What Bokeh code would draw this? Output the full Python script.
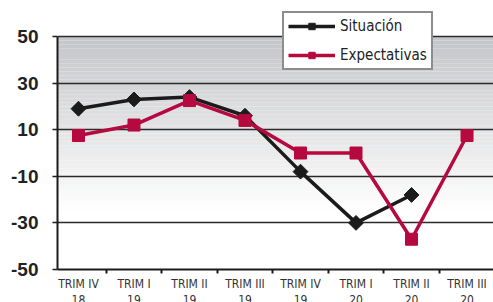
import math
from bokeh.plotting import figure
from bokeh.models import Range1d, FixedTicker, Legend, LegendItem
from bokeh.embed import file_html
from bokeh.resources import INLINE

categories = ["TRIM IV\n18", "TRIM I\n19", "TRIM II\n19", "TRIM III\n19",
              "TRIM IV\n19", "TRIM I\n20", "TRIM II\n20", "TRIM III\n20"]
situacion = [19, 23, 24, 16, -8, -30, -18]
expectativas = [7.5, 12, 22.5, 14, 0, 0, -37, 7.5]
y_ticks = [-50, -30, -10, 10, 30, 50]

BLACK = "#1b1b1b"
RED = "#b5093f"

Y_MIN, Y_MAX = -50, 50
Y_TOP = Y_MAX + 26 * (Y_MAX - Y_MIN) / 233  # head-room for legend above plot
X_LO, X_HI = -0.378, 7.477

p = figure(frame_width=436, frame_height=259, output_backend="svg", toolbar_location=None,
           x_range=Range1d(X_LO, X_HI), y_range=Range1d(Y_MIN, Y_TOP),
           min_border_left=57, min_border_right=0, min_border_top=10,
           min_border_bottom=33)
p.outline_line_color = None
p.background_fill_color = "white"

# gradient background (only inside -50..50)
n = 60
top = (0xc4, 0xc5, 0xc8)
for i in range(n):
    a = Y_MIN + (Y_MAX - Y_MIN) * i / n
    b = Y_MIN + (Y_MAX - Y_MIN) * (i + 1) / n
    mid = (a + b) / 2
    t = (mid - (-25)) / (50 - (-25))
    t = max(0.0, min(1.0, t))
    c = tuple(int(round(255 + (tc - 255) * t)) for tc in top)
    p.quad(left=X_LO, right=X_HI, bottom=a, top=b,
           fill_color="#%02x%02x%02x" % c, line_color=None, level="image")

xs = list(range(len(categories)))

p.xgrid.grid_line_color = None
p.ygrid.ticker = FixedTicker(ticks=y_ticks)
p.ygrid.grid_line_color = "#2a2a2a"
p.ygrid.grid_line_width = 1.5
p.ygrid.level = "underlay"

r1 = p.line(xs[:len(situacion)], situacion, line_color=BLACK, line_width=3.5)
m1 = p.scatter(xs[:len(situacion)], situacion, marker="square", size=10.5,
               angle=math.pi / 4, fill_color=BLACK, line_color=BLACK)
r2 = p.line(xs, expectativas, line_color=RED, line_width=3.5)
m2 = p.scatter(xs, expectativas, marker="square", size=12,
               fill_color=RED, line_color=RED)

# axes
p.yaxis.ticker = FixedTicker(ticks=y_ticks)
p.yaxis.bounds = (Y_MIN, Y_MAX)
p.yaxis.major_label_overrides = {t: str(t) for t in y_ticks}
p.yaxis.axis_line_color = BLACK
p.yaxis.axis_line_width = 2
p.yaxis.major_tick_out = 5
p.yaxis.major_tick_in = 0
p.yaxis.major_tick_line_color = BLACK
p.yaxis.major_tick_line_width = 1.5
p.yaxis.minor_tick_line_color = None
p.yaxis.major_label_text_font = "Liberation Sans"
p.yaxis.major_label_text_font_style = "bold"
p.yaxis.major_label_text_font_size = "19px"
p.yaxis.major_label_text_color = "#222222"
p.yaxis.major_label_standoff = 14

p.xaxis.ticker = FixedTicker(ticks=xs, minor_ticks=[i + 0.5 for i in range(7)])
p.xaxis.major_label_overrides = {i: c for i, c in enumerate(categories)}
p.xaxis.axis_line_color = BLACK
p.xaxis.axis_line_width = 2
p.xaxis.major_tick_line_color = None
p.xaxis.minor_tick_out = 4
p.xaxis.minor_tick_in = 0
p.xaxis.minor_tick_line_color = BLACK
p.xaxis.minor_tick_line_width = 2
p.xaxis.major_label_text_font = "DejaVu Sans Condensed"
p.xaxis.major_label_text_font_size = "12px"
p.xaxis.major_label_text_color = "#333333"
p.xaxis.major_label_standoff = 1

legend = Legend(items=[LegendItem(label="Situación", renderers=[r1, m1]),
                       LegendItem(label="Expectativas", renderers=[r2, m2])],
                location=(225, 199))
legend.border_line_color = BLACK
legend.border_line_width = 2
legend.background_fill_color = "white"
legend.background_fill_alpha = 1
legend.glyph_width = 47
legend.glyph_height = 16
legend.label_height = 16
legend.spacing = 11
legend.padding = 4
legend.margin = 0
legend.label_standoff = 5
legend.label_text_font = "DejaVu Sans Condensed"
legend.label_text_font_size = "15px"
legend.label_text_color = "#222222"
p.add_layout(legend, "center")

open("out.html", "w").write(file_html(p, INLINE))
